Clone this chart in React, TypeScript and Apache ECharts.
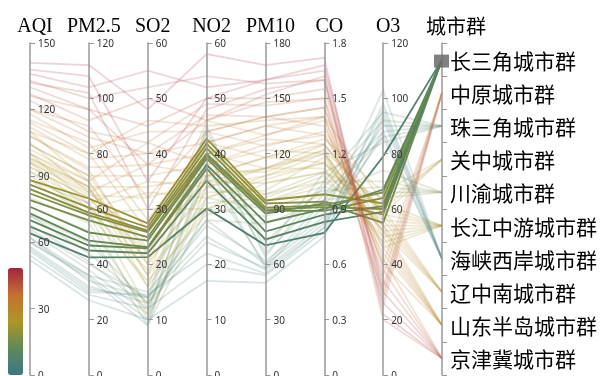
import React, { useEffect, useRef } from "react";
import * as echarts from "echarts";

// Axis names
const dimNames = ["AQI", "PM2.5", "SO2", "NO2", "PM10", "CO", "O3", "城市群"];
const axisMax = [150, 120, 60, 60, 180, 1.8, 120];
const axisInterval = [30, 20, 10, 10, 30, 0.3, 20];

// City groups (top to bottom)
const groups = [
  "长三角城市群",
  "中原城市群",
  "珠三角城市群",
  "关中城市群",
  "川渝城市群",
  "长江中游城市群",
  "海峡西岸城市群",
  "辽中南城市群",
  "山东半岛城市群",
  "京津冀城市群",
];
const selectedGroup = "长三角城市群";

// [AQI, PM2.5, SO2, NO2, PM10, CO, O3]
const changsanjiao = [
  [88, 63.8, 27.4, 42.7, 94.6, 0.98, 62],
  [86, 60.5, 26.7, 41.8, 93, 0.94, 58],
  [84, 58.7, 26.1, 41, 90.8, 0.92, 66],
  [82, 57.7, 25.8, 40, 89.7, 0.91, 60],
  [79, 55.9, 24.9, 39.6, 89, 0.89, 64],
  [76, 51.5, 24.3, 39.1, 87.6, 0.93, 55],
  [73, 48.6, 23.1, 38, 82.7, 0.9, 67],
  [70, 46.8, 22.9, 37.3, 77.8, 0.87, 61],
  [67, 45, 22, 35.1, 73.5, 0.83, 59],
  [64, 42.5, 21.3, 30.1, 70.3, 0.77, 79],
];
const zhongyuan = [
  [138, 108, 35, 50, 160, 1.65, 28],
  [132, 102, 30, 48, 155, 1.6, 32],
  [126, 96, 38, 46, 148, 1.5, 25],
  [120, 90, 32, 44, 140, 1.45, 36],
  [115, 84, 28, 42, 135, 1.4, 40],
  [110, 80, 26, 40, 130, 1.38, 30],
];
const zhusanjiao = [
  [72, 44, 13, 44, 72, 1.02, 92],
  [68, 41, 12, 40, 66, 0.98, 88],
  [65, 38, 11, 42, 64, 1.05, 95],
  [62, 36, 10, 36, 60, 0.95, 86],
  [60, 35, 9, 38, 58, 0.92, 90],
  [66, 40, 14, 45, 68, 1.1, 84],
];
const guanzhong = [
  [108, 74, 20, 46, 130, 1.4, 62],
  [102, 70, 18, 44, 124, 1.32, 58],
  [98, 68, 16, 42, 118, 1.28, 66],
  [94, 64, 22, 40, 112, 1.22, 60],
];
const chuanyu = [
  [88, 62, 12, 36, 98, 1.1, 64],
  [84, 58, 10, 34, 94, 1.05, 70],
  [80, 55, 11, 32, 90, 1.0, 68],
  [76, 52, 9, 30, 86, 0.98, 74],
  [72, 48, 13, 28, 82, 0.95, 66],
];
const changjiang = [
  [104, 72, 22, 36, 112, 1.25, 58],
  [100, 70, 20, 34, 108, 1.2, 52],
  [98, 68, 18, 32, 106, 1.15, 54],
  [96, 66, 24, 35, 104, 1.1, 60],
  [94, 64, 21, 33, 100, 1.18, 48],
  [92, 62, 16, 30, 98, 1.05, 56],
  [90, 60, 19, 31, 96, 1.08, 50],
  [88, 58, 17, 29, 94, 1.02, 62],
  [97, 67, 23, 37, 110, 1.22, 46],
];
const haixia = [
  [62, 34, 14, 27, 62, 0.86, 103],
  [58, 32, 13, 24, 58, 0.82, 96],
  [56, 30, 14.5, 22, 55, 0.8, 92],
  [54, 29, 12, 20, 54, 0.78, 88],
  [52, 27, 10, 17, 50, 0.75, 94],
  [60, 36, 15, 28, 60, 0.84, 86],
  [57, 31, 14, 25, 57, 0.8, 98],
];
const liaozhongnan = [
  [110, 70, 42, 38, 125, 1.3, 56],
  [105, 66, 38, 36, 118, 1.25, 58],
  [100, 62, 35, 34, 112, 1.2, 52],
  [96, 60, 33, 32, 108, 1.15, 60],
  [92, 58, 30, 30, 104, 1.1, 54],
];
const shandong = [
  [118, 82, 44, 44, 140, 1.35, 46],
  [112, 78, 40, 42, 135, 1.3, 50],
  [108, 75, 38, 40, 128, 1.25, 54],
  [104, 72, 36, 38, 122, 1.2, 44],
  [100, 68, 34, 36, 118, 1.15, 52],
  [96, 65, 32, 35, 112, 1.12, 48],
  [114, 80, 46, 45, 138, 1.4, 40],
];
const jingjinji = [
  [141, 112, 48, 58, 168, 1.72, 22],
  [136, 104, 55, 52, 160, 1.68, 30],
  [133, 100, 52, 54, 158, 1.6, 26],
  [130, 96, 45, 50, 150, 1.55, 34],
  [127, 92, 50, 46, 152, 1.62, 20],
  [124, 88, 42, 49, 146, 1.5, 38],
  [120, 86, 40, 47, 140, 1.45, 42],
];

const groupRows = [
  changsanjiao,
  zhongyuan,
  zhusanjiao,
  guanzhong,
  chuanyu,
  changjiang,
  haixia,
  liaozhongnan,
  shandong,
  jingjinji,
];

const colorStops = ["#3a7789", "#5f8958", "#ad9627", "#c4702f", "#a4243f"];

const W = 604;
const H = 376;
const PAR = { left: 30, right: 162, top: 43, bottom: 1 };

export default function App() {
  const ref = useRef<HTMLDivElement>(null);
  useEffect(() => {
    if (!ref.current) return;
    const chart = echarts.init(ref.current, undefined, { renderer: "svg" });
    const data: any[] = [];
    groupRows.forEach((rows, gi) => {
      rows.forEach((r) => data.push([...r, groups[gi]]));
    });
    const parallelAxis: any[] = dimNames.map((name, i) => {
      if (i === 7) {
        return {
          dim: i,
          name,
          type: "category",
          data: groups,
          inverse: true,
          nameLocation: "start",
          nameTextStyle: {
            fontSize: 20,
            color: "#000",
            fontFamily: "Noto Sans CJK SC",
            padding: [0, 0, 0, 28],
          },
          axisLabel: {
            fontSize: 21,
            color: "#000",
            fontFamily: "Noto Sans CJK SC",
          },
        };
      }
      return {
        dim: i,
        name,
        type: "value",
        min: 0,
        max: axisMax[i],
        interval: axisInterval[i],
      };
    });
    // brush-cover decoration on the category axis, derived from the layout
    const selIdx = groups.indexOf(selectedGroup);
    const band = (H - PAR.top - PAR.bottom) / groups.length;
    const axisX = W - PAR.right;
    const cy = PAR.top + band * (selIdx + 0.5);
    chart.setOption({
      animation: false,
      parallel: {
        ...PAR,
        parallelAxisDefault: {
          nameLocation: "end",
          nameGap: 8,
          nameTruncate: { maxWidth: 300 },
          nameTextStyle: {
            fontSize: 20,
            color: "#000",
            fontFamily: "Liberation Serif",
            padding: [0, 0, 0, 10],
          },
          axisLine: { lineStyle: { color: "#999", width: 1.5 } },
          axisTick: { length: 5, lineStyle: { color: "#999" } },
          axisLabel: {
            fontSize: 10,
            color: "#333",
            fontFamily: "Noto Sans",
          },
          splitLine: { show: false },
          areaSelectStyle: {
            width: 15,
            borderWidth: 0,
            color: "#666",
            opacity: 0,
          },
        },
      },
      parallelAxis,
      visualMap: {
        type: "continuous",
        dimension: 0,
        min: 50,
        max: 140,
        left: 8,
        bottom: 1,
        padding: 0,
        itemWidth: 15,
        itemHeight: 107,
        calculable: false,
        inRange: { color: colorStops },
      },
      graphic: [
        {
          type: "rect",
          z: 100,
          shape: { x: axisX - 8, y: cy - 5, width: 15, height: 13 },
          style: { fill: "#6b6b6b", opacity: 0.85 },
        },
      ],
      series: [
        {
          type: "parallel",
          data,
          lineStyle: { width: 1.8, opacity: 1 },
          inactiveOpacity: 0.2,
          activeOpacity: 1,
          smooth: false,
        },
      ],
    });
    chart.dispatchAction({
      type: "axisAreaSelect",
      parallelAxisIndex: 7,
      intervals: [[selIdx, selIdx]],
    });
    return () => chart.dispose();
  }, []);
  return (
    <div
      ref={ref}
      style={{ position: "fixed", left: 0, top: 0, width: W, height: H }}
    />
  );
}
